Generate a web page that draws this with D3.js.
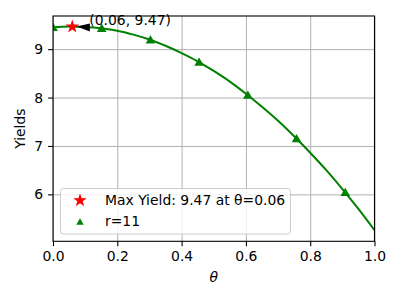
<!DOCTYPE html>
<html>
<head>
<meta charset="utf-8">
<script src="https://cdn.jsdelivr.net/npm/d3@7"></script>
<style>
  body { margin: 0; background: #fff; }
  text { font-family: "DejaVu Sans", sans-serif; }
</style>
</head>
<body>
<script>
// ************************************
// *********** Chart Data *************
// ************************************

// -- yield curve --
var curveTheta = [0, 0.05, 0.1, 0.15, 0.2, 0.25, 0.3, 0.35, 0.4, 0.45, 0.5,
                  0.55, 0.6, 0.65, 0.7, 0.75, 0.8, 0.85, 0.9, 0.95, 1.0];
var curveYield = [9.45, 9.47, 9.46, 9.43, 9.38, 9.30, 9.20, 9.07, 8.92, 8.75, 8.55,
                  8.33, 8.08, 7.81, 7.52, 7.20, 6.86, 6.50, 6.11, 5.70, 5.26];

// -- triangle markers (r=11) --
var markTheta = [0, 0.1515, 0.303, 0.4545, 0.606, 0.7576, 0.909];
var markYield = [9.45, 9.43, 9.19, 8.73, 8.05, 7.15, 6.04];

// -- maximum --
var maxTheta = [0.06];
var maxYield = [9.47];

// -- ticks --
var xTicks = [0, 0.2, 0.4, 0.6, 0.8, 1.0];
var yTicks = [6, 7, 8, 9];

var legendLabels = ["Max Yield: 9.47 at \u03b8=0.06", "r=11"];

// -- global var for svg --
var svg;
var W = 400, H = 300;
var pLeft = 53, pRight = 374.5, pTop = 16, pBottom = 241.3;

var x = d3.scaleLinear().domain([0, 1]).range([pLeft, pRight]);
var y = d3.scaleLinear().domain([5.03, 9.685]).range([pBottom, pTop]);

svg = d3.select('body')
  .append('svg')
  .attr('width', W)
  .attr('height', H);

svg.append('defs').append('clipPath')
  .attr('id', 'clip')
  .append('rect')
    .attr('x', pLeft).attr('y', pTop)
    .attr('width', pRight - pLeft).attr('height', pBottom - pTop);

// ************************************
// ************ Grid + Axes ***********
// ************************************

svg.append('g')
  .attr('transform', 'translate(0,' + pBottom + ')')
  .call(d3.axisBottom(x).tickValues(xTicks).tickSize(-(pBottom - pTop)).tickFormat(''))
  .call(function(g){
    g.select('.domain').remove();
    g.selectAll('line').attr('stroke', '#b0b0b0').attr('stroke-width', 1);
  });

svg.append('g')
  .attr('transform', 'translate(' + pLeft + ',0)')
  .call(d3.axisLeft(y).tickValues(yTicks).tickSize(-(pRight - pLeft)).tickFormat(''))
  .call(function(g){
    g.select('.domain').remove();
    g.selectAll('line').attr('stroke', '#b0b0b0').attr('stroke-width', 1);
  });

// ************************************
// ************* Data marks ***********
// ************************************

var plot = svg.append('g').attr('clip-path', 'url(#clip)');

var line = d3.line()
  .x(function(d){ return x(d[0]); })
  .y(function(d){ return y(d[1]); })
  .curve(d3.curveMonotoneX);

plot.append('path')
  .datum(d3.zip(curveTheta, curveYield))
  .attr('d', line)
  .attr('fill', 'none')
  .attr('stroke', '#008000')
  .attr('stroke-width', 2);

var tri = d3.symbol().type(d3.symbolTriangle).size(40);
var star = d3.symbol().type(d3.symbolStar).size(58);

plot.selectAll('path.tri')
  .data(d3.zip(markTheta, markYield))
  .enter()
  .append('path')
    .attr('class', 'tri')
    .attr('d', tri)
    .attr('transform', function(d){ return 'translate(' + x(d[0]) + ',' + (y(d[1]) + 0.8) + ')'; })
    .attr('fill', '#008000');

plot.selectAll('path.star')
  .data(d3.zip(maxTheta, maxYield))
  .enter()
  .append('path')
    .attr('class', 'star')
    .attr('d', star)
    .attr('transform', function(d){ return 'translate(' + x(d[0]) + ',' + (y(d[1]) + 0.4) + ')'; })
    .attr('fill', '#ff0000');

// -- annotation arrow + text --
var ax = x(maxTheta[0]), ay = y(maxYield[0]);
var tx = x(maxTheta[0] + 0.05), ty = y(maxYield[0] + 0.03);
svg.append('path')
  .attr('d', 'M' + (ax + 4.5) + ',' + (ay) +
             'L' + (tx + 1.5) + ',' + (ay - 3) +
             'L' + (tx + 1.5) + ',' + (ay + 5) + 'Z')
  .attr('fill', '#000');

svg.append('text')
  .attr('x', tx + 1)
  .attr('y', ty)
  .attr('font-size', '13.9px')
  .attr('fill', '#000')
  .text('(' + maxTheta[0].toFixed(2) + ', ' + maxYield[0].toFixed(2) + ')');

// -- spines --
svg.append('rect')
  .attr('x', pLeft).attr('y', pTop)
  .attr('width', pRight - pLeft).attr('height', pBottom - pTop)
  .attr('fill', 'none').attr('stroke', '#000').attr('stroke-width', 1.1);

// -- tick labels --
svg.append('g')
  .attr('transform', 'translate(0,' + pBottom + ')')
  .call(d3.axisBottom(x).tickValues(xTicks).tickSize(4.9).tickPadding(4.9).tickFormat(d3.format('.1f')))
  .call(function(g){
    g.select('.domain').remove();
    g.selectAll('line').attr('stroke-width', 1.1);
    g.selectAll('text').attr('font-size', '13.9px').attr('font-family', '"DejaVu Sans", sans-serif').attr('fill', '#000');
  });

svg.append('g')
  .attr('transform', 'translate(' + pLeft + ',0)')
  .call(d3.axisLeft(y).tickValues(yTicks).tickSize(4.9).tickPadding(4.9).tickFormat(d3.format('d')))
  .call(function(g){
    g.select('.domain').remove();
    g.selectAll('line').attr('stroke-width', 1.1);
    g.selectAll('text').attr('font-size', '13.9px').attr('font-family', '"DejaVu Sans", sans-serif').attr('fill', '#000');
  });

// -- axis labels --
svg.append('text')
  .attr('x', (pLeft + pRight) / 2)
  .attr('y', 282)
  .attr('text-anchor', 'middle')
  .attr('font-size', '13.9px')
  .attr('font-style', 'italic')
  .text('\u03b8');

svg.append('text')
  .attr('transform', 'translate(25,' + ((pTop + pBottom) / 2) + ') rotate(-90)')
  .attr('text-anchor', 'middle')
  .attr('font-size', '13.9px')
  .text('Yields');

// ************************************
// ************** Legend **************
// ************************************

var legend = svg.append('g');
legend.append('rect')
  .attr('x', 60.5).attr('y', 188.5)
  .attr('width', 230).attr('height', 45.5)
  .attr('rx', 3)
  .attr('fill', '#fff').attr('fill-opacity', 0.8)
  .attr('stroke', '#cccccc').attr('stroke-width', 1);

legend.append('path')
  .attr('d', star)
  .attr('transform', 'translate(80,200.5)')
  .attr('fill', '#ff0000');

legend.append('path')
  .attr('d', d3.symbol().type(d3.symbolTriangle).size(24))
  .attr('transform', 'translate(80,222.5)')
  .attr('fill', '#008000');

legend.selectAll('text.lab')
  .data(legendLabels)
  .enter()
  .append('text')
    .attr('class', 'lab')
    .attr('x', 105)
    .attr('y', function(d, i){ return 204.5 + i * 21; })
    .attr('font-size', '13.9px')
    .text(function(d){ return d; });
</script>
</body>
</html>
